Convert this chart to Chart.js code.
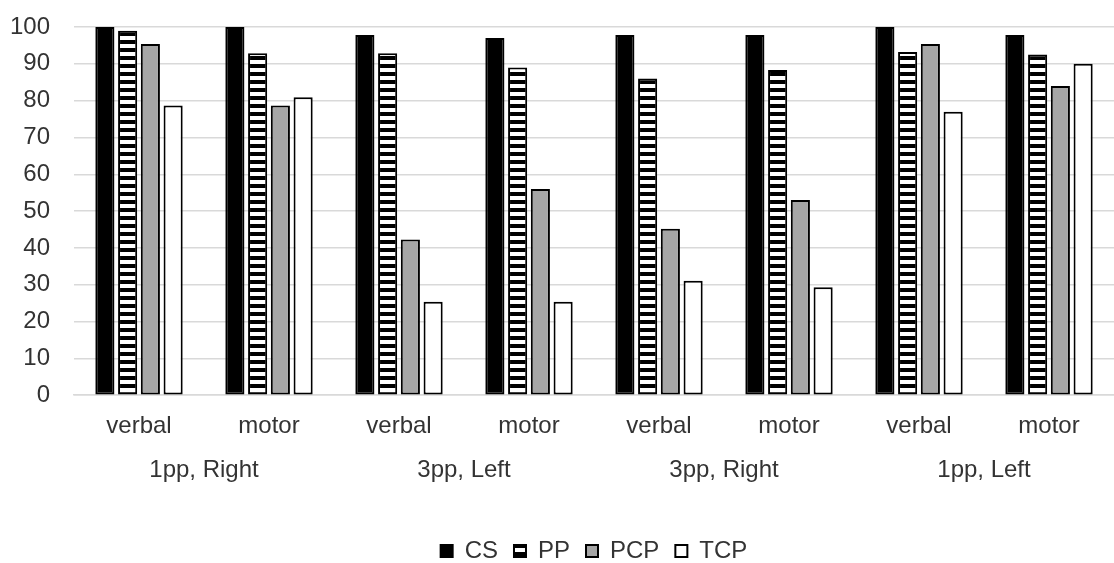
<!DOCTYPE html>
<html>
<head>
<meta charset="utf-8">
<script src="https://cdn.jsdelivr.net/npm/chart.js@4/dist/chart.umd.min.js"></script>
<style>
  body { margin: 0; background: #fff; }
  #wrap { width: 1114px; height: 563px; }
</style>
</head>
<body>
<div id="wrap"><canvas id="chart" width="1114" height="563"></canvas></div>
<script>
const categories = ['verbal', 'motor', 'verbal', 'motor', 'verbal', 'motor', 'verbal', 'motor'];
const groupLabels = ['1pp, Right', '3pp, Left', '3pp, Right', '1pp, Left'];
const csValues  = [100, 100, 97.8, 97, 97.8, 97.8, 100, 97.8];
const ppValues  = [99, 92.9, 92.9, 89, 86, 88.3, 93.2, 92.5];
const pcpValues = [95.4, 78.7, 42.3, 56, 45.2, 53, 95.4, 84];
const tcpValues = [78.7, 80.9, 25.4, 25.4, 31.1, 29.3, 77, 90];
const yTicks = [0, 10, 20, 30, 40, 50, 60, 70, 80, 90, 100];

const ctx = document.getElementById('chart').getContext('2d');

// horizontal black/white stripes for PP
function stripePattern() {
    const c = document.createElement('canvas');
    c.width = 8; c.height = 8;
    const g = c.getContext('2d');
    g.fillStyle = '#fff';
    g.fillRect(0, 0, 8, 8);
    g.fillStyle = '#000';
    g.fillRect(0, 0, 8, 4);
    return ctx.createPattern(c, 'repeat');
}

const textColor = '#333';
const font = { family: '"Liberation Sans", Arial, sans-serif', size: 24 };

function bars(label, data, fill) {
    return {
        label: label,
        data: data,
        backgroundColor: fill,
        borderColor: '#000',
        borderWidth: 2,
        borderSkipped: false,
        categoryPercentage: 0.7,
        barPercentage: 0.84
    };
}

new Chart(ctx, {
    type: 'bar',
    data: {
        labels: categories,
        datasets: [
            bars('CS', csValues, '#000'),
            bars('PP', ppValues, stripePattern()),
            bars('PCP', pcpValues, '#a6a6a6'),
            bars('TCP', tcpValues, '#fff')
        ]
    },
    options: {
        responsive: false,
        animation: false,
        layout: { padding: { top: 27, right: 0, left: 0, bottom: -10 } },
        scales: {
            y: {
                min: 0,
                max: 100,
                afterBuildTicks: s => { s.ticks = yTicks.map(v => ({ value: v })); },
                afterFit: s => { s.width = 74; s.paddingTop = 0; s.paddingBottom = 0; },
                ticks: { color: textColor, font: font, padding: 24 },
                grid: { color: '#d9d9d9', lineWidth: 1.5, drawTicks: false },
                border: { display: false }
            },
            x: {
                ticks: { color: textColor, font: font, padding: 17 },
                grid: { display: false, drawTicks: false },
                border: { color: '#d9d9d9', width: 1.5 },
                afterFit: s => { s.height = 51; }
            },
            x2: {
                type: 'category',
                labels: groupLabels,
                position: 'bottom',
                grid: { display: false, drawTicks: false },
                border: { display: false },
                ticks: { color: textColor, font: font, padding: 10 },
                afterFit: s => { s.height += 28; }
            }
        },
        plugins: {
            legend: {
                position: 'bottom',
                fullSize: false,
                labels: {
                    color: textColor,
                    font: font,
                    boxWidth: 12,
                    boxHeight: 12,
                    padding: 16
                }
            },
            tooltip: { enabled: false }
        }
    }
});
</script>
</body>
</html>
